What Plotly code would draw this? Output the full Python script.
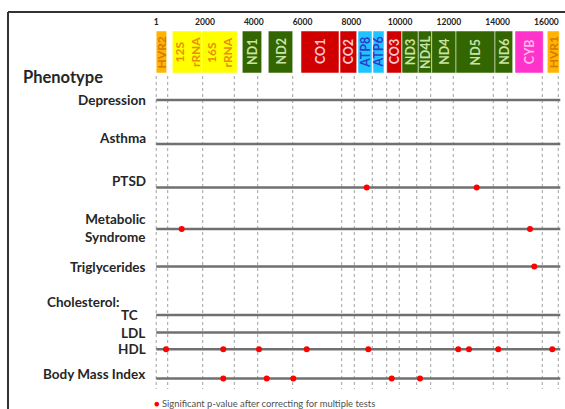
import plotly.graph_objects as go

W, H = 565, 409
GENOME_LEN = 16569

# ---- top axis (mtDNA position) ----
tick_vals = [1, 2000, 4000, 6000, 8000, 10000, 12000, 14000, 16000]
tick_text = ["1", "2000", "4000", "6000", "8000", "10000", "12000", "14000", "16000"]

# ---- gene map (approximate positions) ----
gene_names = ["HVR2", "12S<br>rRNA", "16S<br>rRNA", "ND1", "ND2", "CO1", "CO2", "ATP8", "ATP6",
              "CO3", "ND3", "ND4L", "ND4", "ND5", "ND6", "CYB", "HVR1"]
gene_start = [0, 660, 1865, 3530, 4596, 5937, 7536, 8274, 8889,
              9451, 10078, 10746, 11296, 12292, 13891, 14711, 16035]
gene_end = [430, 1865, 3325, 4325, 5597, 7495, 8221, 8848, 9340,
            10066, 10746, 11296, 12292, 13891, 14617, 15871, 16527]
gene_type = ["HVR", "rRNA", "rRNA", "ND", "ND", "CO", "CO", "ATP", "ATP",
             "CO", "ND", "ND", "ND", "ND", "ND", "CYB", "HVR"]

# dotted gene boundary guides
boundaries = [0, 472, 1907, 3202, 4162, 5597, 7606, 8122, 8860, 9451, 9967,
              10681, 11255, 12181, 13821, 14395, 15830, 16486]

# ---- phenotypes and significant positions ----
phenotypes = ["Depression", "Asthma", "PTSD", "Metabolic Syndrome", "Triglycerides",
              "TC", "LDL", "HDL", "Body Mass Index"]
depression_sig = []
asthma_sig = []
ptsd_sig = [8631, 13141]
metabolic_sig = [1046, 15326]
triglycerides_sig = [15502]
tc_sig = []
ldl_sig = []
hdl_sig = [402, 2751, 4215, 6171, 8696, 12386, 12825, 14026, 16240]
bmi_sig = [2751, 4531, 5621, 9656, 10816]
sig_lists = [depression_sig, asthma_sig, ptsd_sig, metabolic_sig, triglycerides_sig,
             tc_sig, ldl_sig, hdl_sig, bmi_sig]

# ---- layout constants (pixel-like y coordinates, x calibration) ----
X0_PX, PX_PER_BP = 156.2, 0.024389
row_y = [100, 144, 187.5, 229, 266.5, 315, 332.5, 349.3, 378.5]
BOX_TOP, BOX_BOT = 31, 73
GUIDE_TOP, GUIDE_BOT = 76, 389

box_fill = {"HVR": "#FFB400", "rRNA": "#FFFF00", "ND": "#336600", "CO": "#D10000",
            "ATP": "#1EC3FF", "CYB": "#FF33CC"}
box_text = {"HVR": "#D97800", "rRNA": "#E89000", "ND": "#C8E4A8", "CO": "#FFC6CF",
            "ATP": "#2F3BCB", "CYB": "#FFB8E8"}
box_font = {"HVR": 12, "rRNA": 12, "ND": 12.5, "CO": 12.5, "ATP": 12.5, "CYB": 12.5}

FONT = "Lato, 'Liberation Sans', Arial, sans-serif"
LABEL_COLOR = "#262626"
LBL = 13.5

fig = go.Figure()

shapes = []
# frame (top and left border)
shapes.append(dict(type="line", xref="paper", yref="paper", x0=8 / W, x1=1, y0=1 - 12 / H, y1=1 - 12 / H,
                   line=dict(color="#333333", width=2)))
shapes.append(dict(type="line", xref="paper", yref="paper", x0=8 / W, x1=8 / W, y0=0, y1=1 - 12 / H,
                   line=dict(color="#333333", width=2)))

# dotted guides
for b in boundaries:
    shapes.append(dict(type="line", xref="x", yref="y", x0=b, x1=b, y0=GUIDE_TOP, y1=GUIDE_BOT,
                       line=dict(color="#a0a0a0", width=1, dash="dot"), layer="below"))

# gene boxes
for s, e, t in zip(gene_start, gene_end, gene_type):
    shapes.append(dict(type="rect", xref="x", yref="y", x0=s, x1=e, y0=BOX_TOP, y1=BOX_BOT,
                       fillcolor=box_fill[t], line=dict(color="rgba(255,255,255,0.5)", width=1)))

# phenotype rows (below the markers)
for y in row_y:
    shapes.append(dict(type="line", xref="x", yref="y", x0=0, x1=GENOME_LEN, y0=y, y1=y,
                       line=dict(color="#707070", width=2.5), layer="below"))

# significant points
for name, sig, y in zip(phenotypes, sig_lists, row_y):
    if sig:
        fig.add_trace(go.Scatter(x=sig, y=[y] * len(sig), mode="markers", name=name,
                                 marker=dict(color="#FF0000", size=6, line=dict(width=0)),
                                 showlegend=False, hoverinfo="x+name"))

annotations = []
# gene labels
for n, s, e, t in zip(gene_names, gene_start, gene_end, gene_type):
    annotations.append(dict(x=(s + e) / 2, y=(BOX_TOP + BOX_BOT) / 2, xref="x", yref="y",
                            text="<b>" + n + "</b>", textangle=-90, showarrow=False,
                            font=dict(family=FONT, size=box_font[t], color=box_text[t])))

# phenotype labels: (text, px_x, y, anchor, size)
label_specs = [
    ("Phenotype", 21, 76.5, "left", 16.5),
    ("Depression", 148, row_y[0], "right", LBL),
    ("Asthma", 148, row_y[1] - 6, "right", LBL),
    ("PTSD", 148, row_y[2] - 7, "right", LBL),
    ("Metabolic<br>Syndrome", 148, row_y[3] - 1, "right", LBL),
    ("Triglycerides", 148, row_y[4], "right", LBL),
    ("Cholesterol:", 45, 302.3, "left", LBL),
    ("TC", 119, row_y[5], "left", LBL),
    ("LDL", 119, row_y[6], "left", LBL),
    ("HDL", 148, row_y[7], "right", LBL),
    ("Body Mass Index", 147, row_y[8] - 5, "right", LBL),
]
for txt, px, y, anc, sz in label_specs:
    annotations.append(dict(x=px / W, y=y, xref="paper", yref="y", text="<b>" + txt + "</b>",
                            xanchor=anc, yanchor="middle", showarrow=False, align=anc,
                            font=dict(family=FONT, size=sz, color=LABEL_COLOR)))

# legend note
annotations.append(dict(x=152 / W, y=403, xref="paper", yref="y", xanchor="left", yanchor="middle",
                        showarrow=False,
                        text="<span style='color:#FF0000'>●</span> Significant p-value after correcting for multiple tests",
                        font=dict(family=FONT, size=9.4, color="#505050")))

fig.update_layout(
    width=W, height=H, autosize=False,
    margin=dict(l=0, r=0, t=0, b=0),
    paper_bgcolor="white", plot_bgcolor="white",
    shapes=shapes, annotations=annotations,
    xaxis=dict(range=[(0 - X0_PX) / PX_PER_BP, (W - X0_PX) / PX_PER_BP],
               side="top", anchor="free", position=1 - 27 / H,
               tickvals=tick_vals, ticktext=["<b>" + t + "</b>" for t in tick_text],
               tickfont=dict(family=FONT, size=8.5, color="#222222"),
               showgrid=False, zeroline=False, showline=False, ticks=""),
    yaxis=dict(range=[H, 0], visible=False, showgrid=False, zeroline=False),
    showlegend=False,
)

fig.write_html("out.html", config={"displayModeBar": False},
               post_script="document.body.style.margin='0';document.body.style.overflow='hidden';")
